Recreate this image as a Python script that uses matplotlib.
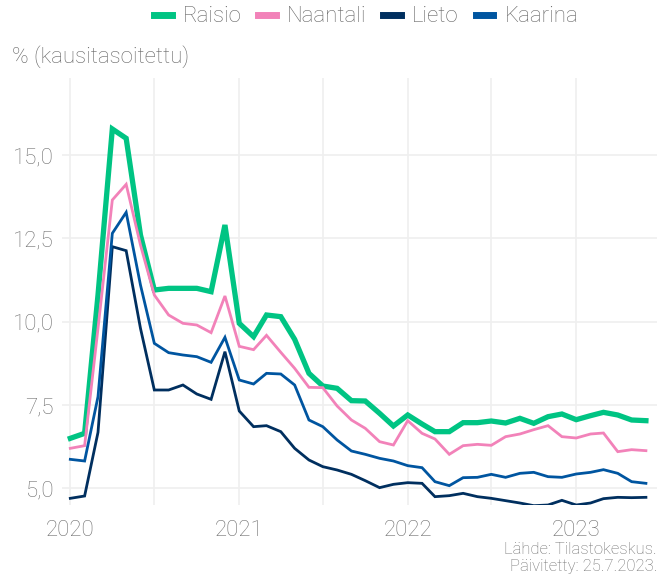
import matplotlib
matplotlib.use("Agg")
import matplotlib.pyplot as plt
from matplotlib.lines import Line2D
import pandas as pd

plt.rcParams['font.family'] = ['Roboto', 'DejaVu Sans']
plt.rcParams['font.weight'] = 'light'

dates = pd.date_range("2020-01-01", periods=42, freq="MS")

raisio = [6.5, 6.65, 10.8, 15.78, 15.5, 12.6, 10.95, 11.0, 11.0, 11.0, 10.9, 12.9,
          9.95, 9.55, 10.2, 10.15, 9.47, 8.45, 8.07, 8.0, 7.63, 7.62, 7.25, 6.87,
          7.2, 6.93, 6.7, 6.7, 6.97, 6.97, 7.02, 6.96, 7.1, 6.95, 7.15, 7.23,
          7.06, 7.18, 7.28, 7.2, 7.05, 7.03]
naantali = [6.2, 6.28, 9.8, 13.65, 14.12, 12.3, 10.8, 10.2, 9.95, 9.9, 9.67, 10.77,
            9.26, 9.16, 9.59, 9.08, 8.6, 8.03, 8.02, 7.47, 7.05, 6.8, 6.4, 6.3,
            7.03, 6.65, 6.48, 6.02, 6.28, 6.32, 6.29, 6.55, 6.63, 6.76, 6.88, 6.55,
            6.51, 6.63, 6.66, 6.1, 6.16, 6.13]
lieto = [4.7, 4.77, 6.68, 12.25, 12.13, 9.8, 7.95, 7.95, 8.1, 7.83, 7.67, 9.1,
         7.32, 6.85, 6.88, 6.7, 6.2, 5.85, 5.65, 5.55, 5.42, 5.23, 5.02, 5.12,
         5.17, 5.15, 4.75, 4.78, 4.85, 4.75, 4.7, 4.63, 4.56, 4.48, 4.5, 4.64,
         4.5, 4.56, 4.69, 4.73, 4.72, 4.73]
kaarina = [5.87, 5.82, 7.75, 12.65, 13.28, 11.1, 9.35, 9.07, 9.0, 8.95, 8.78, 9.53,
           8.25, 8.13, 8.45, 8.43, 8.1, 7.05, 6.85, 6.45, 6.12, 6.02, 5.9, 5.82,
           5.68, 5.62, 5.2, 5.08, 5.32, 5.33, 5.42, 5.33, 5.45, 5.48, 5.35, 5.33,
           5.43, 5.48, 5.56, 5.45, 5.2, 5.15]

series_names = ["Raisio", "Naantali", "Lieto", "Kaarina"]
series_values = [raisio, naantali, lieto, kaarina]
colors = ["#00C483", "#F282B9", "#002F5F", "#0055A0"]
widths = [3.8, 2.0, 2.0, 2.0]

yticks = [5.0, 7.5, 10.0, 12.5, 15.0]
ytick_labels = ["5,0", "7,5", "10,0", "12,5", "15,0"]
year_ticks = ["2020", "2021", "2022", "2023"]

fig = plt.figure(figsize=(6.7, 5.79), dpi=100)
ax = fig.add_axes([62/670, 1-505/579, (657-62)/670, (505-78)/579])

for name, vals, c, lw in zip(series_names, series_values, colors, widths):
    ax.plot(dates, vals, color=c, lw=lw, solid_joinstyle='miter', zorder=3)

ax.set_ylim(4.5, 17.31)
ax.set_xlim(pd.Timestamp("2019-12-14"), pd.Timestamp("2023-06-25"))

ax.set_yticks(yticks)
ax.set_yticklabels(ytick_labels)
ax.set_xticks([pd.Timestamp(y + "-01-01") for y in year_ticks])
ax.set_xticklabels(year_ticks)
ax.set_xticks([pd.Timestamp(y + "-07-01") for y in ["2020", "2021", "2022"]], minor=True)

ax.grid(True, which='major', color='#efefef', lw=1.2, zorder=0)
ax.grid(True, which='minor', axis='x', color='#efefef', lw=1.2, zorder=0)
ax.tick_params(axis='both', which='both', length=0, labelsize=16, labelcolor='#707070')
ax.tick_params(axis='y', pad=6)
ax.tick_params(axis='x', pad=11)
for s in ax.spines.values():
    s.set_visible(False)

fig.text(12/670, 1-57/579, "% (kausitasoitettu)", fontsize=16, color='#666666',
         ha='left', va='center')

handles = [Line2D([0], [0], color=c, lw=5) for c in colors]
fig.legend(handles, series_names, loc='center', bbox_to_anchor=(366/670, 1-17/579),
           ncol=4, frameon=False, fontsize=16, handlelength=0.8, handletextpad=0.5,
           columnspacing=0.75, labelcolor='#666666')

fig.text(657/670, 1-550/579, "Lähde: Tilastokeskus.", fontsize=12, color='#707070',
         ha='right', va='center')
fig.text(657/670, 1-567/579, "Päivitetty: 25.7.2023.", fontsize=12, color='#707070',
         ha='right', va='center')

fig.savefig("out.png", dpi=100)
